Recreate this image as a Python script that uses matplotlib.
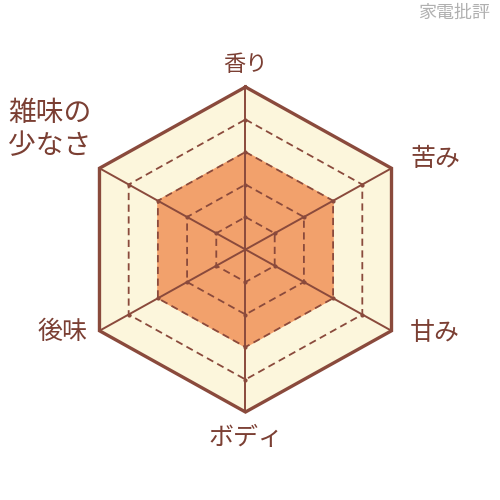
import numpy as np
import matplotlib
matplotlib.use('Agg')
import matplotlib.pyplot as plt

plt.rcParams['font.family'] = ['Noto Sans CJK JP', 'DejaVu Sans']

#---DATA---
categories = ['香り', '苦み', '甘み', 'ボディ', '後味', '雑味の少なさ']
scores = [3, 3, 3, 3, 3, 3]
max_score = 5
levels = [1, 2, 3, 4]

#---COLORS---
line_brown = '#8a4a3c'
text_brown = '#7b3f33'
cream = '#fcf6dc'
orange = '#f2a16c'

#angles clockwise from top
n = len(categories)
angles = np.pi / 2 - np.arange(n) * 2 * np.pi / n


def hexpts(r):
    xs = list(r * np.cos(angles)) + [r * np.cos(angles[0])]
    ys = list(r * np.sin(angles)) + [r * np.sin(angles[0])]
    return np.array(xs), np.array(ys)


fig = plt.figure(figsize=(5, 5), dpi=100)
ax = fig.add_axes([0, 0, 1, 1])
ax.set_xlim(-1.456, 1.5095)
ax.set_ylim(-1.5415, 1.5354)
ax.axis('off')

#outer hexagon fill
ox, oy = hexpts(1.0)
ax.fill(ox, oy, color=cream, zorder=1)

#data polygon
vals = np.array(scores) / max_score
dx = list(vals * np.cos(angles)) + [vals[0] * np.cos(angles[0])]
dy = list(vals * np.sin(angles)) + [vals[0] * np.sin(angles[0])]
ax.fill(dx, dy, color=orange, zorder=2)

#dashed inner rings
for lv in levels:
    x, y = hexpts(lv / max_score)
    ax.plot(x, y, color=line_brown, lw=1.3, ls=(0, (4, 2.5)), zorder=3)
    ax.scatter(x[:-1], y[:-1], s=4, color=line_brown, zorder=3)

#spokes
for a in angles:
    ax.plot([0, np.cos(a)], [0, np.sin(a)], color=line_brown, lw=1.4, zorder=4)

#outer border
ax.plot(ox, oy, color=line_brown, lw=2.4, solid_joinstyle='miter', zorder=5)

#labels
ax.text(0.0, 1.14, categories[0], ha='center', va='center', fontsize=16, color=text_brown)
ax.text(1.124, 0.554, categories[1], ha='center', va='center', fontsize=18, color=text_brown)
ax.text(1.124, -0.514, categories[2], ha='center', va='center', fontsize=18, color=text_brown)
ax.text(0.0, -1.163, categories[3], ha='center', va='center', fontsize=18, color=text_brown)
ax.text(-1.088, -0.508, categories[4], ha='center', va='center', fontsize=18, color=text_brown)
ax.text(-1.409, 0.738, '雑味の\n少なさ', ha='left', va='center', linespacing=1.1,
        fontsize=20, color=text_brown)

#watermark
fig.text(0.98, 0.975, '家電批評', ha='right', va='center', fontsize=13, color='#b0b0b0')

plt.savefig('out.png', dpi=100)
